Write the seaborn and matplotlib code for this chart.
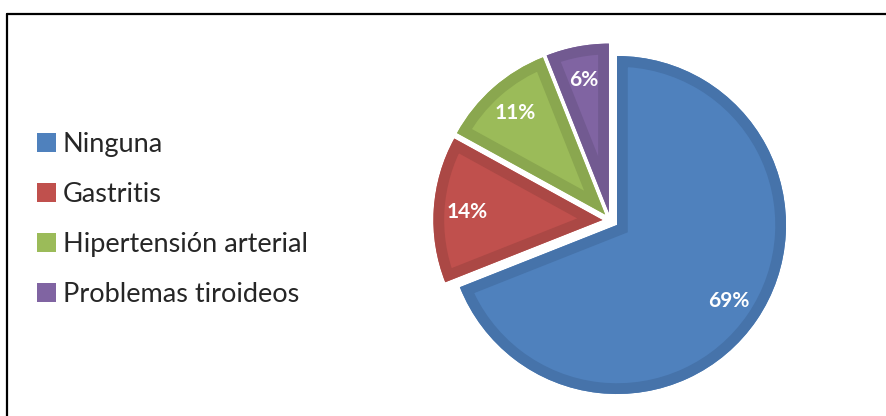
import matplotlib
matplotlib.use("Agg")
import matplotlib.pyplot as plt
import seaborn as sns
from matplotlib.patches import Patch, PathPatch
from matplotlib.lines import Line2D

# Health conditions reported and their share of respondents (%)
categories = ["Ninguna", "Gastritis", "Hipertensión arterial", "Problemas tiroideos"]
shares = [69, 14, 11, 6]

face_colors = ["#4F81BD", "#C0504D", "#9BBB59", "#8064A2"]
rim_colors = ["#4673AA", "#AB4845", "#8AA74F", "#725A91"]

sns.set_theme(style="white")
plt.rcParams["font.family"] = ["Lato", "DejaVu Sans"]

W, H = 887, 416
fig = plt.figure(figsize=(W / 100, H / 100), dpi=100)
fig.patch.set_facecolor("white")
ax = fig.add_axes([0, 0, 1, 1])

# axes units are pixels, so radius and explode offsets are in pixels too
wedges, _, autotexts = ax.pie(
    shares,
    colors=face_colors,
    startangle=90,
    counterclock=False,
    explode=[8] * len(shares),
    center=(610.4, H - 220.5),
    radius=169,
    autopct=lambda p: f"{p:.0f}%",
    pctdistance=0.8,
    wedgeprops=dict(linewidth=0),
    textprops=dict(color="white", fontweight="bold", fontsize=15),
)

# darker inner rim on each slice: a thick outline clipped to the slice
for w, rim in zip(wedges, rim_colors):
    outline = PathPatch(w.get_path(), transform=w.get_transform(),
                        facecolor="none", edgecolor=rim, linewidth=15.5,
                        joinstyle="miter", zorder=w.get_zorder() + 0.1)
    ax.add_patch(outline)
    outline.set_clip_path(w)

for t in autotexts:
    t.set_zorder(5)

ax.set_xlim(0, W)
ax.set_ylim(0, H)
ax.set_aspect("equal")
ax.axis("off")

handles = [Patch(facecolor=c, edgecolor="none") for c in face_colors]
ax.legend(
    handles, categories,
    loc="center left", bbox_to_anchor=(37 / W, (H - 219.5) / H),
    frameon=False, fontsize=19.5,
    handlelength=0.7, handleheight=0.7, handletextpad=0.25,
    labelspacing=0.93, borderpad=0, borderaxespad=0,
)

# chart frame (top and left edges)
fig.add_artist(Line2D([7.5 / W, 886 / W], [1 - 13.5 / H, 1 - 13.5 / H],
                      transform=fig.transFigure, color="black", lw=1.6))
fig.add_artist(Line2D([7.5 / W, 7.5 / W], [0, 1 - 13.5 / H],
                      transform=fig.transFigure, color="black", lw=1.6))

fig.savefig("out.png", dpi=100)
